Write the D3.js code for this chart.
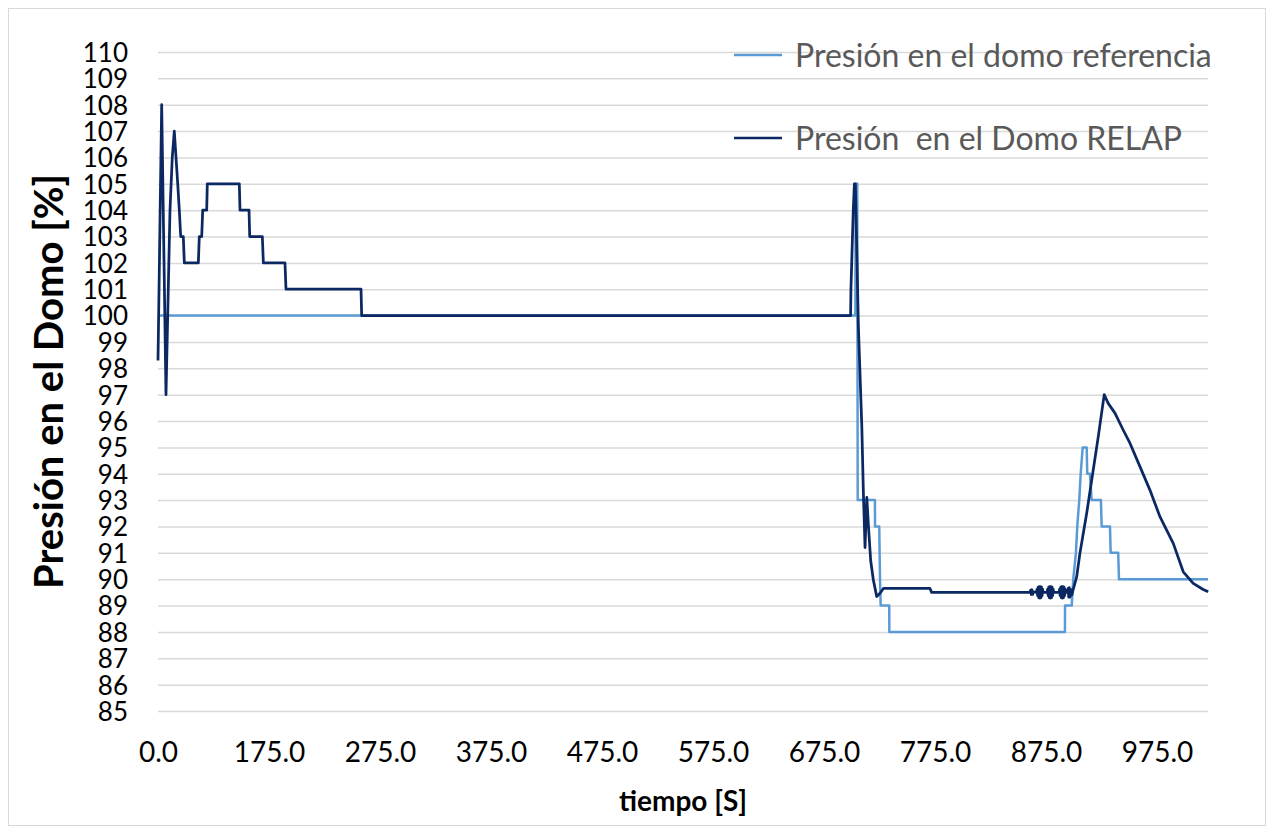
<!DOCTYPE html>
<html>
<head>
<meta charset="utf-8">
<script src="https://cdn.jsdelivr.net/npm/d3@7"></script>
<style>
  body { margin: 0; background: #fff; }
  text { font-family: Lato, "Open Sans", sans-serif; }
</style>
</head>
<body>
<div id="chart"></div>
<script>
// Reference series (light blue)
var timeRef = [0, 703.3, 703.6, 705.0, 705.4, 720.9, 721.0, 724.8, 725.5, 726.1, 733.8, 733.9, 892.1, 892.2, 898.2,
               899.6, 902.0, 903.2, 905.0, 906.3, 908.1, 911.7, 912.2, 914.6, 916.2, 924.5, 925.2, 932.7, 933.3,
               940.1, 940.8, 1021];
var presRef = [100, 100, 105, 105, 93, 93, 92, 92, 90, 89, 89, 88, 88, 89, 89,
               90, 91, 92, 93, 94, 95, 95, 94, 94, 93, 93, 92, 92, 91,
               91, 90, 90];

// RELAP series (dark blue)
var timeRelap = [0, 5.8, 12.6, 18.9, 22.5, 25.7, 28.4, 31.1, 33.6, 35.8, 39.9, 41.5, 63.6, 65.1, 68.9, 70.5,
                 76.8, 77.7, 128.2, 129.3, 143.5, 144.6, 164.5, 166.1, 189.4, 190.3, 257.9, 258.5, 699.0, 699.3,
                 701.4, 702.4, 703.3, 706.0, 709.1, 710.5, 712.0, 713.6, 715.1, 717.1, 719.5, 722.5, 725.5, 728.5,
                 770.5, 772.0, 860.6,
                 // oscillating blobs
                 861.2, 861.8, 862.4, 863.0, 863.6,
                 866.5, 867.0, 867.5, 868.0, 868.5, 869.0, 869.5, 870.0, 870.5, 871.0, 871.5, 872.0, 872.5,
                 876.0, 876.5, 877.0, 877.5, 878.0, 878.5, 879.0, 879.5, 880.0, 880.5, 881.0, 881.5, 882.0,
                 886.8, 887.3, 887.8, 888.3, 888.8, 889.3, 889.8, 890.3, 890.8, 891.3, 891.8, 892.3, 892.8,
                 894.5, 895.0, 895.5, 896.0, 896.5, 897.0, 897.5,
                 898.2, 902.7, 905.6, 911.7, 917.6,
                 922.1, 927.5, 931.1, 937.2, 944.6, 950.7, 959.7, 968.7, 977.7, 989.7, 998.7, 1007.7, 1016.7, 1021.2];
var presRelap = [98.3, 108, 97, 104, 106, 107, 106, 105, 104, 103, 103, 102, 102, 103, 103, 104,
                 104, 105, 105, 104, 104, 103, 103, 102, 102, 101, 101, 100, 100, 101,
                 104, 105, 105, 99.6, 95.8, 93.3, 91.2, 93.1, 92, 90.7, 89.97, 89.34, 89.47, 89.65,
                 89.65, 89.5, 89.5,
                 89.58, 89.42, 89.6, 89.42, 89.52,
                 89.5, 89.62, 89.38, 89.7, 89.3, 89.72, 89.28, 89.72, 89.3, 89.7, 89.38, 89.62, 89.5,
                 89.5, 89.62, 89.38, 89.7, 89.3, 89.72, 89.28, 89.72, 89.3, 89.7, 89.38, 89.62, 89.5,
                 89.5, 89.62, 89.38, 89.7, 89.3, 89.72, 89.28, 89.72, 89.3, 89.7, 89.38, 89.62, 89.5,
                 89.5, 89.65, 89.32, 89.68, 89.32, 89.62, 89.42,
                 89.4, 90.1, 90.98, 92.5, 94.14,
                 95.4, 97, 96.67, 96.3, 95.66, 95.16, 94.27, 93.38, 92.37, 91.36, 90.28, 89.84, 89.61, 89.52];

var xTickValues = [0, 175, 275, 375, 475, 575, 675, 775, 875, 975];
var yTickValues = d3.range(85, 111, 1);

var seriesNames = ["Presión en el domo referencia", "Presión  en el Domo RELAP"];
var seriesColors = ["#5b9bd5", "#0b2862"];

var W = 1274, H = 831;
var margin = {top: 52, right: 66, bottom: 120, left: 158};
var width = W - margin.left - margin.right;
var height = H - margin.top - margin.bottom;

var svg = d3.select("#chart")
  .append("svg")
  .attr("width", W)
  .attr("height", H);

// chart border
svg.append("rect")
  .attr("x", 8.5).attr("y", 8.5)
  .attr("width", W - 17).attr("height", H - 14)
  .attr("fill", "none")
  .attr("stroke", "#d9d9d9");

var g = svg.append("g")
  .attr("transform", "translate(" + margin.left + "," + margin.top + ")");

// category-like axis: first interval is wider than the rest
var x = d3.scaleLinear()
  .domain([0, 175, 1021])
  .range([0, 111, width]);

var y = d3.scaleLinear()
  .domain([85, 110])
  .range([height, 0]);

// gridlines
g.append("g")
  .attr("class", "grid")
  .call(d3.axisLeft(y).tickValues(yTickValues).tickSize(-width).tickFormat(""))
  .call(function(s) { s.select(".domain").remove(); })
  .selectAll("line")
  .attr("stroke", "#d9d9d9")
  .attr("stroke-width", 1.5);

// Y axis
var yAxis = g.append("g")
  .call(d3.axisLeft(y).tickValues(yTickValues).tickSize(0).tickPadding(30));
yAxis.select(".domain").remove();
yAxis.selectAll("text")
  .attr("fill", "#000")
  .style("font-size", "26px")
  .attr("dy", "0.36em");

// X axis
var xAxis = g.append("g")
  .attr("transform", "translate(0," + height + ")")
  .call(d3.axisBottom(x).tickValues(xTickValues).tickSize(0).tickPadding(31).tickFormat(d3.format(".1f")));
xAxis.select(".domain").remove();
xAxis.selectAll("text")
  .attr("fill", "#000")
  .style("font-size", "28px");

// axis titles
svg.append("text")
  .attr("transform", "translate(63," + (margin.top + height / 2) + ") rotate(-90)")
  .attr("text-anchor", "middle")
  .style("font-size", "40px")
  .style("font-weight", "bold")
  .text("Presión en el Domo [%]");

svg.append("text")
  .attr("x", margin.left + width / 2)
  .attr("y", 811)
  .attr("text-anchor", "middle")
  .style("font-size", "28px")
  .style("font-weight", "bold")
  .text("tiempo [S]");

// lines
var line = d3.line()
  .x(function(d) { return x(d[0]); })
  .y(function(d) { return y(d[1]); });

var refData = timeRef.map(function(t, i) { return [t, presRef[i]]; });
var relapData = timeRelap.map(function(t, i) { return [t, presRelap[i]]; });

g.append("path")
  .datum(refData)
  .attr("fill", "none")
  .attr("stroke", seriesColors[0])
  .attr("stroke-width", 2.5)
  .attr("stroke-linejoin", "round")
  .attr("d", line);

g.append("path")
  .datum(relapData)
  .attr("fill", "none")
  .attr("stroke", seriesColors[1])
  .attr("stroke-width", 2.75)
  .attr("stroke-linejoin", "round")
  .attr("d", line);

// legend
var legendY = [55, 138];
seriesNames.forEach(function(name, i) {
  svg.append("line")
    .attr("x1", 734).attr("x2", 782)
    .attr("y1", legendY[i]).attr("y2", legendY[i])
    .attr("stroke", seriesColors[i])
    .attr("stroke-width", 2.5);
  svg.append("text")
    .attr("x", 795)
    .attr("y", legendY[i])
    .attr("dy", "0.36em")
    .attr("fill", "#595959")
    .style("font-size", "32px")
    .style("white-space", "pre")
    .attr("xml:space", "preserve")
    .text(name);
});
</script>
</body>
</html>
